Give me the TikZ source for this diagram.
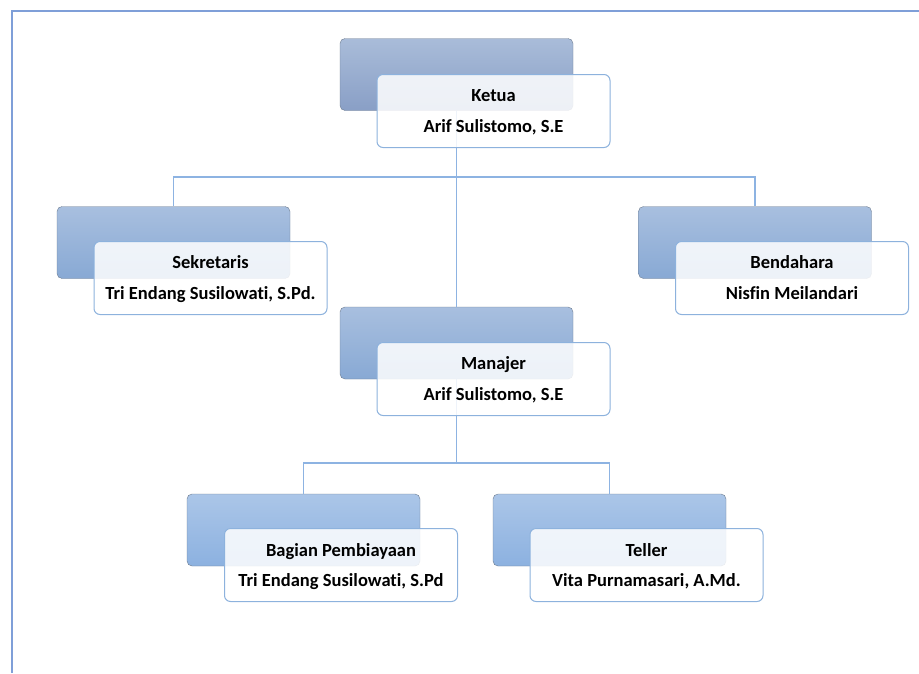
\documentclass[tikz,border=0pt]{standalone}
\usepackage{fontspec}
\setmainfont{Carlito}[Ligatures={NoCommon}]
\usetikzlibrary{positioning}

\definecolor{frameblue}{HTML}{7F9FD8}
\definecolor{linkblue}{HTML}{8DB3E2}
\definecolor{frontedge}{HTML}{8DB2DD}
\definecolor{backedge}{HTML}{6D7C90}
\definecolor{topA}{HTML}{A9BCD9}
\definecolor{botA}{HTML}{899FC6}
\definecolor{topB}{HTML}{A8BFDF}
\definecolor{botB}{HTML}{88A9D4}
\definecolor{topC}{HTML}{ABC6E8}
\definecolor{botC}{HTML}{8CB1E0}

\tikzset{
  backbox/.style={draw=backedge, rounded corners=5pt, minimum width=233pt,
    minimum height=72pt, inner sep=0pt},
  frontbox/.style={draw=frontedge, line width=1pt, fill=white, fill opacity=0.85,
    text opacity=1, rounded corners=6pt, minimum width=233pt, minimum height=73pt,
    inner sep=0pt, text depth=0pt, align=center,
    font=\fontsize{18.5}{31}\selectfont\bfseries},
  link/.style={draw=linkblue, line width=1.3pt}
}

\begin{document}
\begin{tikzpicture}[x=1pt, y=-1pt] % pixel units, y grows downwards
    \useasboundingbox (0,0) rectangle (919,673);

    % 1. Page frame
    \draw[frameblue, line width=2pt] (12,673) -- (12,11) -- (919,11);

    % 2. Back boxes (shaded)
    \node[backbox, top color=topA, bottom color=botA] (ketuaB) at (456.5,74.5) {};
    \node[backbox, top color=topB, bottom color=botB] (sekB) at (173.5,242.5) {};
    \node[backbox, top color=topB, bottom color=botB] (benB) at (755,242.5) {};
    \node[backbox, top color=topB, bottom color=botB] (manB) at (456.5,343) {};
    \node[backbox, top color=topC, bottom color=botC] (bagB) at (303.5,530) {};
    \node[backbox, top color=topC, bottom color=botC] (telB) at (609.5,530) {};

    % 3. Connectors
    \coordinate (split1) at (456.5,177);
    \coordinate (split2) at (456.5,463);
    \draw[link] (ketuaB.south) -- (manB.north);
    \draw[link] (sekB.north) |- (split1) -| (benB.north);
    \draw[link] (manB.south) -- (split2);
    \draw[link] (bagB.north) |- (split2) -| (telB.north);

    % 4. Front boxes with the texts
    \node[frontbox] (ketua) at ([shift={(37,36.5)}]ketuaB.center) {Ketua\\Arif Sulistomo, S.E};
    \node[frontbox] (sek) at ([shift={(37,35.5)}]sekB.center) {Sekretaris\\Tri Endang Susilowati, S.Pd.};
    \node[frontbox] (ben) at ([shift={(37,35.5)}]benB.center) {Bendahara\\Nisfin Meilandari};
    \node[frontbox] (man) at ([shift={(37,36)}]manB.center) {Manajer\\Arif Sulistomo, S.E};
    \node[frontbox] (bag) at ([shift={(37.5,35)}]bagB.center) {Bagian Pembiayaan\\Tri Endang Susilowati, S.Pd};
    \node[frontbox] (tel) at ([shift={(37,35)}]telB.center) {Teller\\Vita Purnamasari, A.Md.};
\end{tikzpicture}
\end{document}
